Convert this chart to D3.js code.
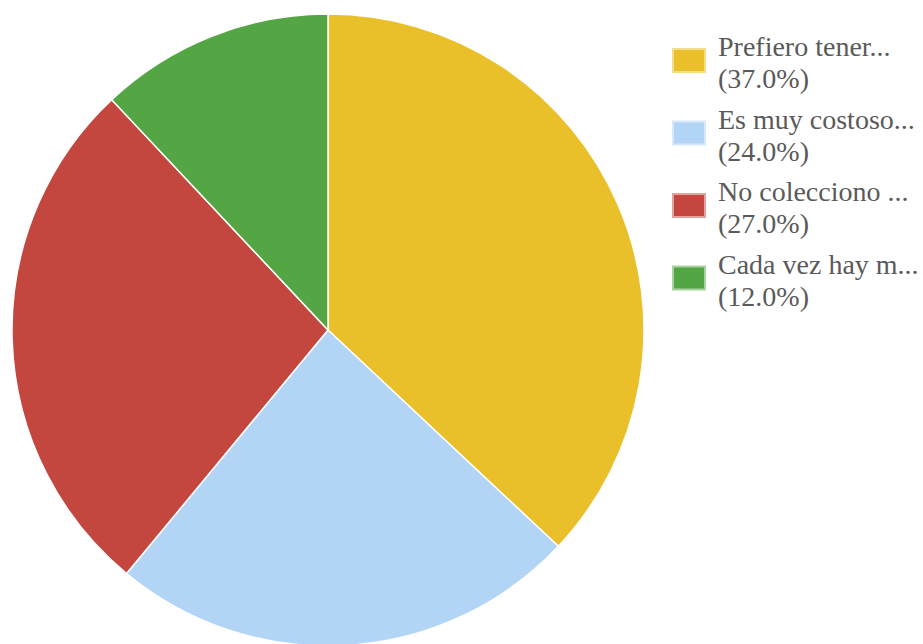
<!DOCTYPE html>
<html>
<head>
<meta charset="utf-8">
<script src="https://cdn.jsdelivr.net/npm/d3@7"></script>
<style>
  html, body { margin: 0; padding: 0; background: #ffffff; overflow: hidden; }
  svg { display: block; }
</style>
</head>
<body>
<svg id="chart" width="923" height="644"></svg>
<script>
// Survey answers and their shares (percent)
const labels = ["Prefiero tener...", "Es muy costoso...", "No colecciono ...", "Cada vez hay m..."];
const shares = [37.0, 24.0, 27.0, 12.0];
const colors = ["#e9c02a", "#b2d4f5", "#c4473f", "#54a543"];
const borderColors = ["#f3dc8a", "#d6e8fa", "#e2a29e", "#a9d2a1"];

const svg = d3.select("#chart");

const cx = 328, cy = 330, radius = 316;

const pie = d3.pie().sort(null).value(d => d)(shares);
const arc = d3.arc().innerRadius(0).outerRadius(radius);

svg.append("g")
  .attr("transform", `translate(${cx},${cy})`)
  .selectAll("path")
  .data(pie)
  .join("path")
  .attr("d", arc)
  .attr("fill", (d, i) => colors[i])
  .attr("stroke", "#ffffff")
  .attr("stroke-width", 1.5);

// Legend: one swatch and a two-line label per answer
const legend = svg.append("g").attr("transform", "translate(672,0)");
const item = legend.selectAll("g")
  .data(labels)
  .join("g")
  .attr("transform", (d, i) => `translate(0,${i * 72.5})`);

item.append("rect")
  .attr("x", 1).attr("y", 49)
  .attr("width", 32).attr("height", 23)
  .attr("fill", (d, i) => colors[i])
  .attr("stroke", (d, i) => borderColors[i])
  .attr("stroke-width", 2);

const txt = item.append("text")
  .attr("font-family", "'Liberation Serif', 'DejaVu Serif', serif")
  .attr("font-size", 28)
  .attr("fill", "#5a5a5a");

txt.append("tspan").attr("x", 46).attr("y", 56).text(d => d);
txt.append("tspan").attr("x", 46).attr("y", 88)
  .text((d, i) => `(${shares[i].toFixed(1)}%)`);
</script>
</body>
</html>
